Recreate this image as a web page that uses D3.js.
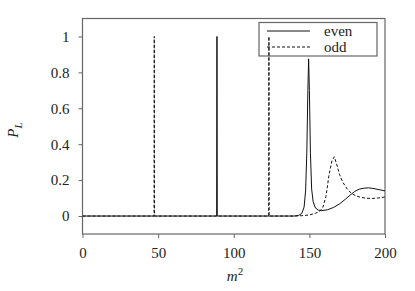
<!DOCTYPE html>
<html>
<head>
<meta charset="utf-8">
<script src="https://cdn.jsdelivr.net/npm/d3@7"></script>
<style>
  body { margin: 0; background: #fff; }
  text { font-family: "Liberation Serif", "DejaVu Serif", serif; font-size: 15px; fill: #222; }
</style>
</head>
<body>
<svg id="chart" width="415" height="291"></svg>
<script>
// even series (m^2, P_L)
var evenX = [0, 88.7, 88.9, 89.1, 140, 143, 145, 146.5, 147.5, 148.3, 149, 149.5, 150, 150.7, 151.5, 152.5, 154, 156, 158, 162, 166, 170, 174, 177, 180, 183, 186, 189, 192, 196, 200]
var evenY = [0, 0, 1, 0, 0, 0.004, 0.015, 0.05, 0.14, 0.35, 0.7, 0.875, 0.7, 0.35, 0.15, 0.08, 0.045, 0.033, 0.03, 0.035, 0.048, 0.068, 0.095, 0.117, 0.137, 0.15, 0.155, 0.157, 0.154, 0.147, 0.14]

// odd series
var oddX = [0, 47.3, 47.45, 47.6, 123.1, 123.25, 123.4, 140, 145, 150, 154, 157, 159, 161, 163, 165, 166.5, 168, 170, 172, 175, 178, 181, 184, 188, 192, 196, 200]
var oddY = [0, 0, 1, 0, 0, 1, 0, 0, 0.002, 0.006, 0.015, 0.028, 0.05, 0.11, 0.23, 0.31, 0.33, 0.29, 0.23, 0.19, 0.15, 0.125, 0.112, 0.104, 0.099, 0.098, 0.101, 0.106]

var xTicks = [0, 50, 100, 150, 200]
var yTicks = [0, 0.2, 0.4, 0.6, 0.8, 1]
var seriesNames = ["even", "odd"]

// plot area (window.top is read-only, so other names)
var pLeft = 82.5, pRight = 385, pTop = 18.5, pBottom = 234

var svg = d3.select("#chart")

var x = d3.scaleLinear().domain([0, 200]).range([pLeft, pRight])
var y = d3.scaleLinear().domain([-0.1, 1.1]).range([pBottom, pTop])

var frameColor = "#666"

// axes
var xAxis = d3.axisBottom(x).tickValues(xTicks).tickSize(4).tickPadding(9)
	.tickFormat(function(d) { return d })
var yAxis = d3.axisLeft(y).tickValues(yTicks).tickSize(4).tickPadding(9)
	.tickFormat(function(d) { return d })

var gx = svg.append("g")
	.attr("transform", "translate(0," + pBottom + ")")
	.call(xAxis)
var gy = svg.append("g")
	.attr("transform", "translate(" + pLeft + ",0)")
	.call(yAxis)

;[gx, gy].forEach(function(g) {
	g.attr("font-family", "Liberation Serif").attr("font-size", 15)
	g.select(".domain").remove()
	g.selectAll(".tick line").attr("stroke", frameColor)
	g.selectAll(".tick text").attr("fill", "#222")
})

// frame
svg.append("rect")
	.attr("x", pLeft)
	.attr("y", pTop)
	.attr("width", pRight - pLeft)
	.attr("height", pBottom - pTop)
	.attr("fill", "none")
	.attr("stroke", frameColor)
	.attr("stroke-width", 1.2)

// clip
svg.append("clipPath").attr("id", "clip")
	.append("rect")
	.attr("x", pLeft).attr("y", pTop)
	.attr("width", pRight - pLeft).attr("height", pBottom - pTop)

var line = d3.line()
	.x(function(d) { return x(d[0]) })
	.y(function(d) { return y(d[1]) })

var evenData = evenX.map(function(v, i) { return [v, evenY[i]] })
var oddData = oddX.map(function(v, i) { return [v, oddY[i]] })

// legend
var legend = svg.append("g")
legend.append("rect")
	.attr("x", 259).attr("y", 22.5)
	.attr("width", 118).attr("height", 33.5)
	.attr("fill", "none")
	.attr("stroke", frameColor)
	.attr("stroke-width", 1.2)

seriesNames.forEach(function(name, i) {
	var ly = 31 + i * 16
	legend.append("line")
		.attr("x1", 267).attr("x2", 310)
		.attr("y1", ly).attr("y2", ly)
		.attr("stroke", "#111")
		.attr("stroke-width", 1)
		.attr("stroke-dasharray", i == 1 ? "3,2" : null)
	legend.append("text")
		.attr("x", 324)
		.attr("y", ly + 5)
		.text(name)
})

var plot = svg.append("g").attr("clip-path", "url(#clip)")

plot.append("path")
	.datum(oddData)
	.attr("d", line)
	.attr("fill", "none")
	.attr("stroke", "#111")
	.attr("stroke-width", 1)
	.attr("stroke-dasharray", "3,2")

plot.append("path")
	.datum(evenData)
	.attr("d", line)
	.attr("fill", "none")
	.attr("stroke", "#111")
	.attr("stroke-width", 1)

// axis titles
var xt = svg.append("text")
	.attr("x", 235)
	.attr("y", 281)
	.attr("text-anchor", "middle")
xt.append("tspan").style("font-style", "italic").text("m")
xt.append("tspan").attr("dy", -6).style("font-size", "11px").text("2")

var yt = svg.append("text")
	.attr("transform", "translate(18,130) rotate(-90)")
	.attr("text-anchor", "middle")
yt.append("tspan").style("font-style", "italic").text("P")
yt.append("tspan").attr("dy", 4).style("font-size", "11px").style("font-style", "italic").text("L")
</script>
</body>
</html>
